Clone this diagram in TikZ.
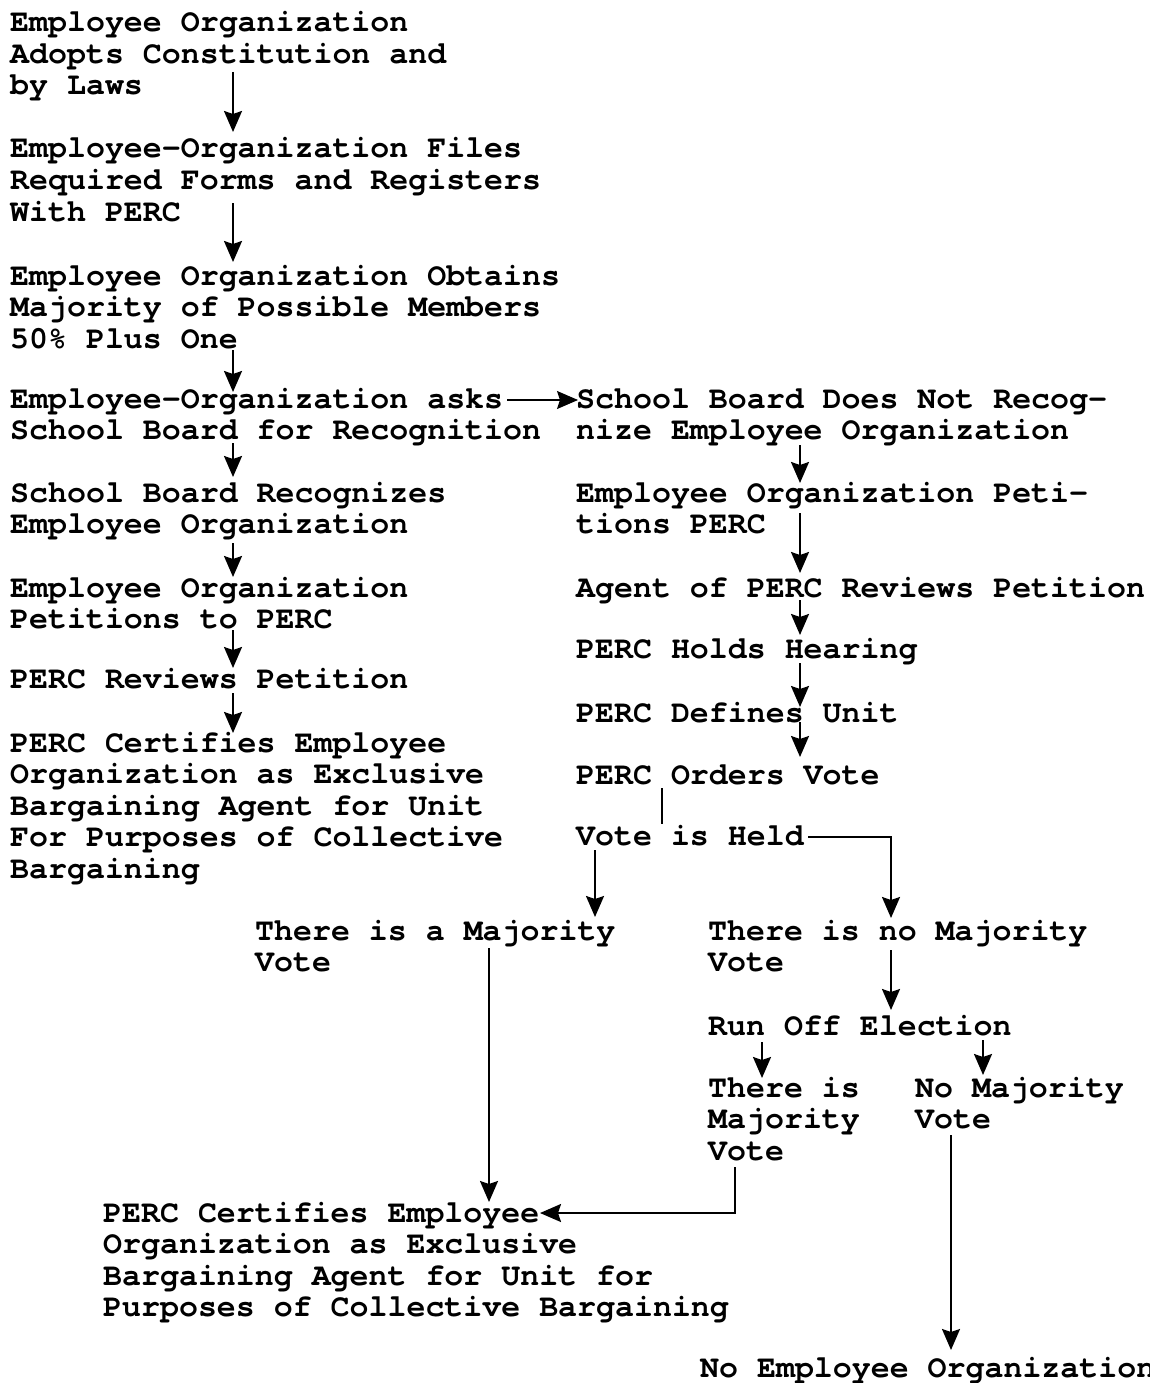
\documentclass[tikz,border=0pt]{standalone}
\usepackage{fontspec}
\setmonofont[Ligatures=NoCommon]{TeX Gyre Cursor}
\usetikzlibrary{arrows.meta}

\begin{document}
\begin{tikzpicture}[x=1pt,y=-1pt,
    step text/.style={anchor=base west,inner sep=0pt,align=left,text width=650pt,
        font=\ttfamily\bfseries\fontsize{31.6}{31.5}\selectfont,
        execute at begin node={\spaceskip=18.96pt\relax}},
    flow/.style={line width=2pt,-{Stealth[length=21pt,width=18pt,inset=3pt]}},
    rule/.style={line width=2pt}]
\useasboundingbox (0,0) rectangle (1149,1383);
% Left hand column: the employee organization is recognized
% by the school board straight away.
\node[step text] (adopt) at (10,32) {Employee Organization\\Adopts Constitution and\\by Laws};
\node[step text] (files) at (10,158) {Employee-Organization Files\\Required Forms and Registers\\With PERC};
\node[step text] (majority) at (10,285) {Employee Organization Obtains\\Majority of Possible Members\\50\% Plus One};
\node[step text] (asks) at (10,408) {Employee-Organization asks\\School Board for Recognition};
\node[step text] (recog) at (10,502) {School Board Recognizes\\Employee Organization};
\node[step text] (petit) at (10,597) {Employee Organization\\Petitions to PERC};
\node[step text] (review) at (10,688) {PERC Reviews Petition};
\node[step text] (certA) at (10,752) {PERC Certifies Employee\\Organization as Exclusive\\Bargaining Agent for Unit\\For Purposes of Collective\\Bargaining};
% Right hand column: the school board says no, so PERC
% holds a hearing and orders a vote.
\node[step text] (norecog) at (576,408) {School Board Does Not Recog-\\nize Employee Organization};
\node[step text] (petitB) at (576,502) {Employee Organization Peti-\\tions PERC};
\node[step text] (agent) at (576,597) {Agent of PERC Reviews Petition};
\node[step text] (hearing) at (576,658) {PERC Holds Hearing};
\node[step text] (unit) at (576,722) {PERC Defines Unit};
\node[step text] (orders) at (576,784) {PERC Orders Vote};
\node[step text] (held) at (576,845) {Vote is Held};
% Outcome of the vote (and of the run off election)
\node[step text] (yes) at (255,940) {There is a Majority\\Vote};
\node[step text] (no) at (708,940) {There is no Majority\\Vote};
\node[step text] (runoff) at (708,1035) {Run Off Election};
\node[step text] (yesB) at (708,1097) {There is\\Majority\\Vote};
\node[step text] (noB) at (915,1097) {No Majority\\Vote};
\node[step text] (certB) at (103,1222) {PERC Certifies Employee\\Organization as Exclusive\\Bargaining Agent for Unit for\\Purposes of Collective Bargaining};
\node[step text] (none) at (700,1377) {No Employee Organization};

% x positions of the vertical connectors
\coordinate (colA) at (233,0);
\coordinate (colB) at (800,0);
\coordinate (colC) at (662,0);
\coordinate (colD) at (595,0);
\coordinate (colE) at (891,0);
\coordinate (colF) at (489,0);
\coordinate (colG) at (762,0);
\coordinate (colH) at (983,0);
\coordinate (colI) at (735,0);
\coordinate (colJ) at (951,0);

% left column arrows
\draw[flow] ([yshift=-40pt]adopt.base -| colA) -- ([yshift=26pt]files.base -| colA);
\draw[flow] ([yshift=-45pt]files.base -| colA) -- ([yshift=23pt]majority.base -| colA);
\draw[flow] ([yshift=-65pt]majority.base -| colA) -- ([yshift=16pt]asks.base -| colA);
\draw[flow] ([yshift=-35pt]asks.base -| colA) -- ([yshift=25pt]recog.base -| colA);
\draw[flow] ([yshift=-41pt]recog.base -| colA) -- ([yshift=20pt]petit.base -| colA);
\draw[flow] ([yshift=-33pt]petit.base -| colA) -- ([yshift=20pt]review.base -| colA);
\draw[flow] ([yshift=-5pt]review.base -| colA) -- ([yshift=19pt]certA.base -| colA);
% board refuses
\draw[flow,line width=1.2pt] ([xshift=497pt,yshift=8pt]asks.base west) -- ([xshift=2pt,yshift=8pt]norecog.base west);
% right column arrows
\draw[flow] ([yshift=-37pt]norecog.base -| colB) -- ([yshift=19pt]petitB.base -| colB);
\draw[flow] ([yshift=-11pt]petitB.base -| colB) -- ([yshift=24pt]agent.base -| colB);
\draw[flow] ([yshift=-3pt]agent.base -| colB) -- ([yshift=23pt]hearing.base -| colB);
\draw[flow] ([yshift=-5pt]hearing.base -| colB) -- ([yshift=15pt]unit.base -| colB);
\draw[flow] (unit.base -| colB) -- ([yshift=27pt]orders.base -| colB);
\draw[rule] ([yshift=-4pt]orders.base -| colC) -- ([yshift=21pt]held.base -| colC);
% the vote
\draw[flow] ([yshift=-5pt]held.base -| colD) -- ([yshift=23pt]yes.base -| colD);
\draw[flow] ([xshift=232pt,yshift=8pt]held.base west) -| ([yshift=22pt]no.base -| colE);
\draw[flow] ([yshift=-10pt]no.base -| colE) -- ([yshift=25pt]runoff.base -| colE);
\draw[flow] ([yshift=-7pt]runoff.base -| colG) -- ([yshift=19pt]yesB.base -| colG);
\draw[flow] ([yshift=-5pt]runoff.base -| colH) -- ([yshift=22pt]noB.base -| colH);
\draw[flow] ([yshift=-8pt]yes.base -| colF) -- ([yshift=20pt]certB.base -| colF);
\draw[flow] ([yshift=-70pt]yesB.base -| colI) |- ([xshift=437pt,yshift=9pt]certB.base west);
\draw[flow] ([yshift=-38pt]noB.base -| colJ) -- ([yshift=27pt]none.base -| colJ);
\end{tikzpicture}
\end{document}
